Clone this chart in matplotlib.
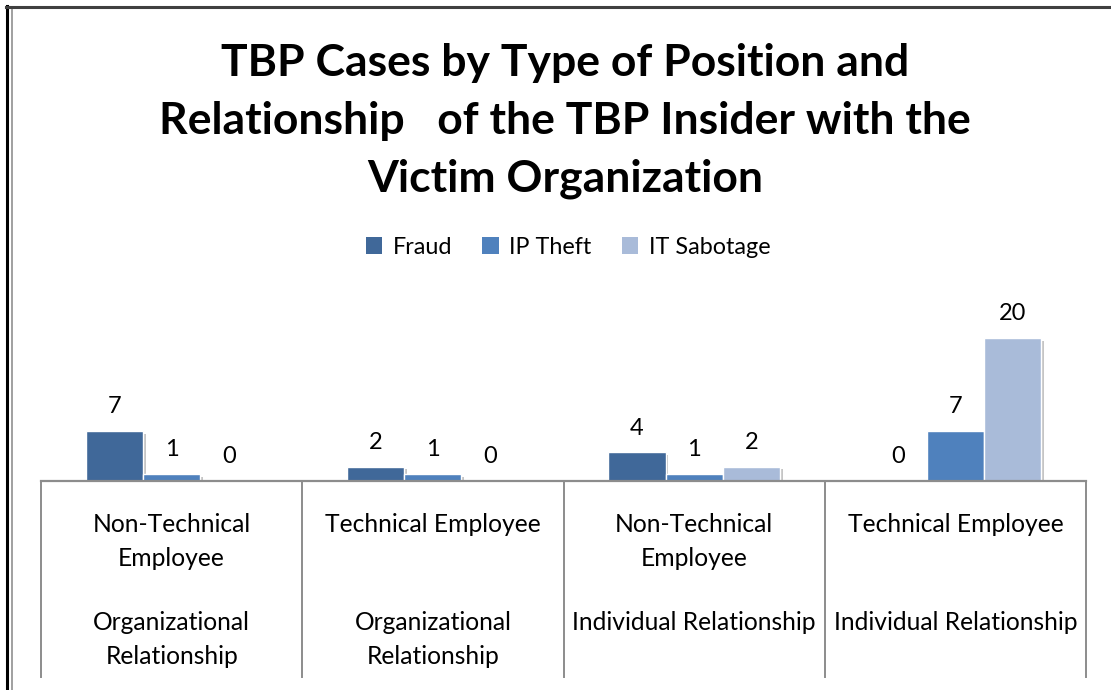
import matplotlib.pyplot as plt
import matplotlib.patheffects as pe
from matplotlib.lines import Line2D
from matplotlib.patches import Patch
import matplotlib.transforms as mtransforms
import numpy as np

plt.rcParams['font.family'] = ['Lato', 'DejaVu Sans']

positions = ['Non-Technical\nEmployee', 'Technical Employee',
             'Non-Technical\nEmployee', 'Technical Employee']
relationships = ['Organizational\nRelationship', 'Organizational\nRelationship',
                 'Individual Relationship', 'Individual Relationship']
series = ['Fraud', 'IP Theft', 'IT Sabotage']
fraud = [7, 2, 4, 0]
ip_theft = [1, 1, 1, 7]
it_sabotage = [0, 0, 2, 20]
colors = ['#406899', '#4F81BD', '#A9BBD9']

W, H = 1111, 690
fig = plt.figure(figsize=(W / 100, H / 100), dpi=100)


def fx(px):
    return px / W


def fy(py):
    return 1 - py / H


# axes: baseline at y=481, 7.15 px per unit
ax_bottom = fy(481)
ax_height = 25 * 7.15 / H
ax = fig.add_axes([fx(41), ax_bottom, fx(1086) - fx(41), ax_height])
ax.set_xlim(-0.5, 3.5)
ax.set_ylim(0, 25)
ax.axis('off')

x = np.arange(len(positions))
w = 0.219
shadow = [pe.SimplePatchShadow(offset=(2, -2), shadow_rgbFace='#808080', alpha=0.45), pe.Normal()]
for i, (vals, name) in enumerate(zip([fraud, ip_theft, it_sabotage], series)):
    bars = ax.bar(x + (i - 1) * w, vals, w, color=colors[i], edgecolor='white',
                  linewidth=1.0, label=name)
    for b in bars:
        if b.get_height() > 0:
            b.set_path_effects(shadow)
    ax.bar_label(bars, labels=[str(v) for v in vals], padding=10, fontsize=17)

# category axis
trans = mtransforms.blended_transform_factory(ax.transData, fig.transFigure)
axis_col = '#8C8C8C'
fig.add_artist(Line2D([fx(41), fx(1086)], [fy(481), fy(481)], color=axis_col, lw=1.6))
for k in range(len(positions) + 1):
    ax.add_line(Line2D([k - 0.5, k - 0.5], [fy(481), fy(677)], transform=trans,
                       color=axis_col, lw=1.4, clip_on=False))
for k in range(len(positions)):
    ax.text(k, fy(513), positions[k], transform=trans, ha='center', va='top',
            fontsize=17.7, linespacing=1.6)
    ax.text(k, fy(611), relationships[k], transform=trans, ha='center', va='top',
            fontsize=17.7, linespacing=1.6)

# title
fig.text(fx(565), fy(121), 'TBP Cases by Type of Position and\nRelationship   of the TBP Insider with the\nVictim Organization',
         ha='center', va='center', fontsize=32, fontweight='bold', linespacing=1.54)

# legend
handles = [Patch(facecolor=c, edgecolor='none') for c in colors]
fig.legend(handles, series, loc='center', bbox_to_anchor=(fx(568), fy(247)), ncol=3,
           frameon=False, fontsize=16.8, handlelength=0.7, handleheight=0.7,
           handletextpad=0.45, columnspacing=1.3)

# outer frame
fig.add_artist(Line2D([fx(7), fx(7)], [fy(6), 0], color='black', lw=2.2))
fig.add_artist(Line2D([fx(11.5), fx(11.5)], [fy(9), 0], color='#909090', lw=1.2))
fig.add_artist(Line2D([fx(6), 1], [fy(7), fy(7)], color='#404040', lw=2.2))

plt.savefig('out.png', dpi=100)
